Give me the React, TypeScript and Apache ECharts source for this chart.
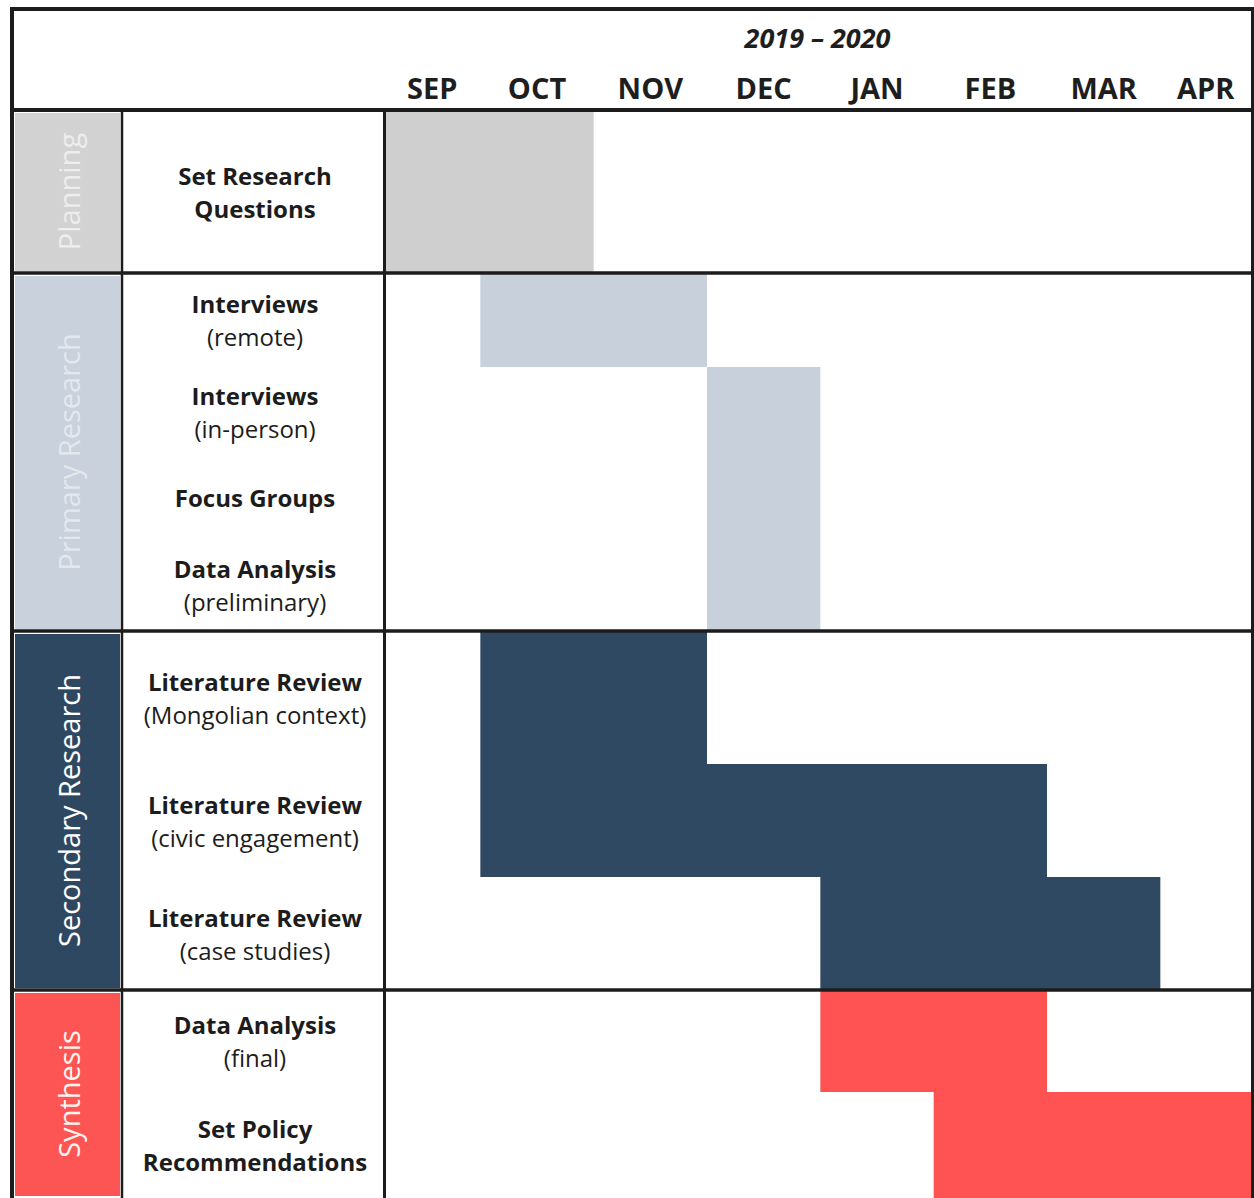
import React, { useEffect, useRef } from "react";
import * as echarts from "echarts";

// Timeline months shown in the header
const months = ["SEP", "OCT", "NOV", "DEC", "JAN", "FEB", "MAR", "APR"];
const yearSpan = "2019 – 2020";

// Project phases and how many task rows each one holds
const phaseNames = ["Planning", "Primary Research", "Secondary Research", "Synthesis"];
const phaseTaskCounts = [1, 4, 3, 2];

// Tasks (title line, detail line), in row order
const taskTitles = [
  "Set Research",
  "Interviews",
  "Interviews",
  "Focus Groups",
  "Data Analysis",
  "Literature Review",
  "Literature Review",
  "Literature Review",
  "Data Analysis",
  "Set Policy",
];
const taskDetails = [
  "Questions",
  "(remote)",
  "(in-person)",
  "",
  "(preliminary)",
  "(Mongolian context)",
  "(civic engagement)",
  "(case studies)",
  "(final)",
  "Recommendations",
];

// First and last month (inclusive) of each task
const taskStartMonth = ["SEP", "OCT", "DEC", "DEC", "DEC", "OCT", "OCT", "JAN", "JAN", "FEB"];
const taskEndMonth = ["OCT", "NOV", "DEC", "DEC", "DEC", "NOV", "FEB", "MAR", "FEB", "APR"];

// ---- layout & style ----
const W = 1254;
const H = 1198;
const GRID_LEFT = 384;
const GRID_RIGHT_EDGE = 1251;
const GRID_TOP = 110;
// Row heights along the vertical axis (one per task)
const rowSpans = [163, 94, 89, 82, 93, 133, 113, 113, 102, 106];
const X_MIN = 0.15;
const X_MAX = 7.8;

const phaseFill = ["#d2d2d2", "#c8d1dc", "#2f4862", "#fd5454"];
const barFill = ["#cfcfcf", "#c7d0db", "#304962", "#ff5353"];
const phaseTextFill = ["#ededed", "#e3e8ee", "#ffffff", "#fff3ee"];
const LINE = "#1c1c1c";
const FONT = "'Open Sans', 'DejaVu Sans', sans-serif";

export default function App() {
  const ref = useRef<HTMLDivElement>(null);

  useEffect(() => {
    if (!ref.current) return;
    const chart = echarts.init(ref.current, undefined, { renderer: "svg" });

    // cumulative row edges
    const rowTop: number[] = [];
    const rowBottom: number[] = [];
    let acc = 0;
    rowSpans.forEach((s) => {
      rowTop.push(acc);
      acc += s;
      rowBottom.push(acc);
    });
    const total = acc;
    const rowCenters = rowTop.map((t, i) => (t + rowBottom[i]) / 2);

    // phase index per task
    const taskPhase: number[] = [];
    phaseTaskCounts.forEach((n, p) => {
      for (let k = 0; k < n; k++) taskPhase.push(p);
    });

    const barData = taskTitles.map((_, i) => [
      months.indexOf(taskStartMonth[i]),
      months.indexOf(taskEndMonth[i]) + 1,
      rowTop[i],
      rowBottom[i],
      taskPhase[i],
    ]);

    let first = 0;
    const phaseData = phaseNames.map((_, p) => {
      const last = first + phaseTaskCounts[p] - 1;
      const item = [X_MIN, rowTop[first], rowBottom[last], p];
      first = last + 1;
      return item;
    });

    // month labels sit in the middle of the visible part of each month
    const monthLabelPos = months.map((_, i) => (Math.max(i, X_MIN) + Math.min(i + 1, X_MAX)) / 2);

    const taskLabel = (i: number) => {
      const d = taskDetails[i];
      if (!d) return `{b|${taskTitles[i]}}`;
      const style = d.startsWith("(") ? "r" : "b";
      return `{b|${taskTitles[i]}}\n{${style}|${d}}`;
    };

    chart.setOption({
      animation: false,
      backgroundColor: "#ffffff",
      textStyle: { fontFamily: FONT },
      grid: {
        left: GRID_LEFT,
        right: W - GRID_RIGHT_EDGE,
        top: GRID_TOP,
        height: total,
        containLabel: false,
      },
      xAxis: {
        type: "value",
        position: "top",
        min: X_MIN,
        max: X_MAX,
        name: yearSpan,
        nameLocation: "middle",
        nameGap: 59,
        nameTextStyle: {
          fontFamily: FONT,
          fontSize: 27,
          fontWeight: "bold",
          fontStyle: "italic",
          color: "#1e1e1e",
        },
        axisLine: { show: false },
        axisTick: { show: false },
        splitLine: { show: false },
        axisLabel: {
          customValues: monthLabelPos,
          margin: 23,
          verticalAlign: "middle",
          fontFamily: FONT,
          fontSize: 29,
          fontWeight: "bold",
          color: "#1e1e1e",
          formatter: (v: number) => months[Math.floor(v)] ?? "",
        },
      },
      yAxis: {
        type: "value",
        inverse: true,
        min: 0,
        max: total,
        axisLine: { show: false },
        axisTick: { show: false },
        splitLine: { show: false },
        axisLabel: {
          customValues: rowCenters,
          margin: GRID_LEFT - 255,
          align: "center",
          verticalAlign: "middle",
          formatter: (v: number) => {
            let best = 0;
            rowCenters.forEach((c, i) => {
              if (Math.abs(c - v) < Math.abs(rowCenters[best] - v)) best = i;
            });
            return taskLabel(best);
          },
          rich: {
            b: {
              fontFamily: FONT,
              fontSize: 24,
              fontWeight: "bold",
              lineHeight: 33,
              color: "#1c1c1c",
              align: "center",
            },
            r: {
              fontFamily: FONT,
              fontSize: 24,
              fontWeight: "normal",
              lineHeight: 33,
              color: "#1c1c1c",
              align: "center",
            },
          },
        },
      },
      series: [
        {
          type: "custom",
          name: "tasks",
          z: 2,
          clip: true,
          encode: { x: [0, 1], y: [2, 3] },
          data: barData,
          renderItem: (params: any, api: any) => {
            const a = api.coord([api.value(0), api.value(2)]);
            const b = api.coord([api.value(1), api.value(3)]);
            const cs = params.coordSys;
            const shape = echarts.graphic.clipRectByRect(
              { x: a[0], y: a[1], width: b[0] - a[0], height: b[1] - a[1] },
              { x: cs.x, y: cs.y, width: cs.width, height: cs.height }
            );
            if (!shape) return null;
            return {
              type: "rect",
              shape,
              style: { fill: barFill[api.value(4)] },
            };
          },
        },
        {
          type: "custom",
          name: "phases",
          z: 5,
          clip: false,
          encode: { x: 0, y: [1, 2] },
          data: phaseData,
          renderItem: (_params: any, api: any) => {
            const p = api.value(3);
            const top = api.coord([X_MIN, api.value(1)])[1];
            const bottom = api.coord([X_MIN, api.value(2)])[1];
            const cellTop = top + 3;
            const cellBottom = Math.min(bottom - 2, H);
            return {
              type: "group",
              children: [
                {
                  type: "rect",
                  shape: { x: 15, y: cellTop, width: 105, height: cellBottom - cellTop },
                  style: { fill: phaseFill[p] },
                },
                {
                  type: "text",
                  x: 68,
                  y: (top + Math.min(bottom, H)) / 2,
                  rotation: Math.PI / 2,
                  style: {
                    text: phaseNames[p],
                    fontFamily: FONT,
                    fontSize: 29,
                    fill: phaseTextFill[p],
                    align: "center",
                    verticalAlign: "middle",
                  },
                },
                {
                  type: "line",
                  shape: { x1: 10, y1: top, x2: W, y2: top },
                  style: { stroke: LINE, lineWidth: p === 0 ? 4 : 3.5 },
                },
              ],
            };
          },
        },
      ],
      graphic: [
        // outer frame
        { type: "line", z: 100, shape: { x1: 10, y1: 9, x2: W, y2: 9 }, style: { stroke: LINE, lineWidth: 4 } },
        { type: "line", z: 100, shape: { x1: 12, y1: 7, x2: 12, y2: H }, style: { stroke: LINE, lineWidth: 4 } },
        { type: "line", z: 100, shape: { x1: 1252.5, y1: 7, x2: 1252.5, y2: H }, style: { stroke: LINE, lineWidth: 3 } },
        // column dividers
        { type: "line", z: 100, shape: { x1: 122, y1: GRID_TOP, x2: 122, y2: H }, style: { stroke: LINE, lineWidth: 2.5 } },
        { type: "line", z: 100, shape: { x1: 384.5, y1: GRID_TOP, x2: 384.5, y2: H }, style: { stroke: LINE, lineWidth: 3 } },
      ],
    });

    return () => chart.dispose();
  }, []);

  return (
    <div
      ref={ref}
      style={{ position: "fixed", left: 0, top: 0, width: W, height: H, background: "#fff" }}
    />
  );
}
